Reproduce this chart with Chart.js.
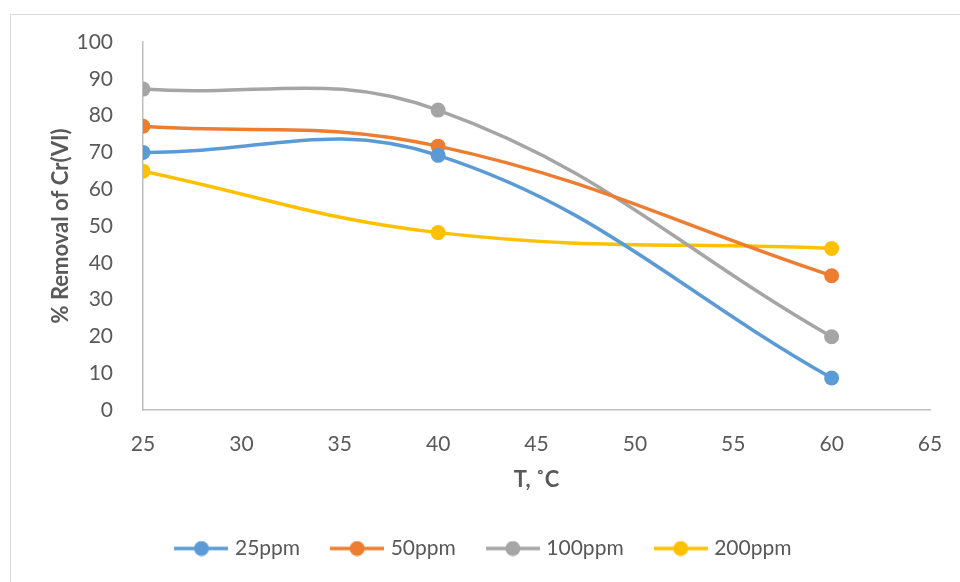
<!DOCTYPE html>
<html lang="en">
<head>
    <meta charset="UTF-8">
    <title>% Removal of Cr(VI) vs T</title>
    <script src="https://cdn.jsdelivr.net/npm/chart.js"></script>
    <style>
        html, body {
            margin: 0;
            padding: 0;
            background: #fff;
            overflow: hidden;
        }
        .frame {
            position: absolute;
            left: 10px;
            top: 14px;
            width: 1000px;
            height: 620px;
            border: 1.5px solid #d9d9d9;
        }
        .wrap {
            position: absolute;
            left: 0;
            top: 0;
            width: 960px;
            height: 582px;
        }
    </style>
</head>
<body>
    <div class="frame"></div>
    <div class="wrap">
        <canvas id="chart" width="960" height="582"></canvas>
    </div>

    <script>
        // data
        const temps = [25, 40, 60];
        const ppm25 = [70.0, 69.2, 8.7];
        const ppm50 = [77.1, 71.7, 36.5];
        const ppm100 = [87.2, 81.5, 19.9];
        const ppm200 = [64.9, 48.2, 43.9];
        const seriesNames = ['25ppm', '50ppm', '100ppm', '200ppm'];
        const seriesColors = ['#5B9BD5', '#ED7D31', '#A5A5A5', '#FFC000'];
        const xTicks = [25, 30, 35, 40, 45, 50, 55, 60, 65];
        const yTicks = [0, 10, 20, 30, 40, 50, 60, 70, 80, 90, 100];

        const allSeries = [ppm25, ppm50, ppm100, ppm200];

        // legend marker: line with a dot, like Excel
        function legendMarker(color) {
            const c = document.createElement('canvas');
            c.width = 54;
            c.height = 16;
            const g = c.getContext('2d');
            g.strokeStyle = color;
            g.lineWidth = 3.5;
            g.beginPath();
            g.moveTo(0, 8);
            g.lineTo(54, 8);
            g.stroke();
            g.fillStyle = color;
            g.beginPath();
            g.arc(27, 8, 7.5, 0, Math.PI * 2);
            g.fill();
            return c;
        }
        const markers = seriesColors.map(legendMarker);

        const datasets = allSeries.map((vals, i) => ({
            label: seriesNames[i],
            data: temps.map((t, j) => ({ x: t, y: vals[j] })),
            borderColor: seriesColors[i],
            backgroundColor: seriesColors[i],
            borderWidth: 3.5,
            pointRadius: 7.5,
            pointHoverRadius: 7.5,
            pointBorderWidth: 0,
            tension: 0.4,
            fill: false
        }));

        const tickFont = { family: 'Lato, "Open Sans", sans-serif', size: 21 };
        const titleFont = { family: 'Lato, "Open Sans", sans-serif', size: 22, weight: 'bold' };

        new Chart(document.getElementById('chart'), {
            type: 'line',
            data: { datasets: datasets },
            options: {
                responsive: false,
                animation: false,
                layout: {
                    padding: { left: 40, right: 30, top: 42, bottom: 13 }
                },
                plugins: {
                    tooltip: { enabled: false },
                    legend: {
                        position: 'bottom',
                        labels: {
                            usePointStyle: true,
                            pointStyleWidth: 46,
                            padding: 34,
                            color: '#595959',
                            font: tickFont,
                            generateLabels: (chart) => chart.data.datasets.map((ds, i) => ({
                                text: ds.label,
                                fillStyle: ds.borderColor,
                                strokeStyle: ds.borderColor,
                                pointStyle: markers[i],
                                fontColor: '#595959',
                                datasetIndex: i,
                                hidden: false
                            }))
                        }
                    }
                },
                scales: {
                    x: {
                        type: 'linear',
                        min: 25,
                        max: 65,
                        afterBuildTicks: (s) => { s.ticks = xTicks.map(v => ({ value: v })); },
                        afterFit: (s) => { s.height = 94; },
                        grid: { display: false },
                        border: { display: true, color: '#bfbfbf', width: 1.5 },
                        ticks: { color: '#595959', font: tickFont, padding: 14, maxRotation: 0 },
                        title: {
                            display: true,
                            text: 'T, ˚C',
                            color: '#595959',
                            font: titleFont,
                            padding: { top: 0, bottom: 11 }
                        }
                    },
                    y: {
                        min: 0,
                        max: 100,
                        afterBuildTicks: (s) => { s.ticks = yTicks.map(v => ({ value: v })); },
                        afterFit: (s) => { s.width = 103; },
                        grid: { display: false },
                        border: { display: true, color: '#bfbfbf', width: 1.5 },
                        ticks: { color: '#595959', font: tickFont, padding: 22 },
                        title: {
                            display: true,
                            text: '% Removal of Cr(VI)',
                            color: '#595959',
                            font: titleFont,
                            padding: { top: 8, bottom: 0 }
                        }
                    }
                }
            }
        });
    </script>
</body>
</html>
